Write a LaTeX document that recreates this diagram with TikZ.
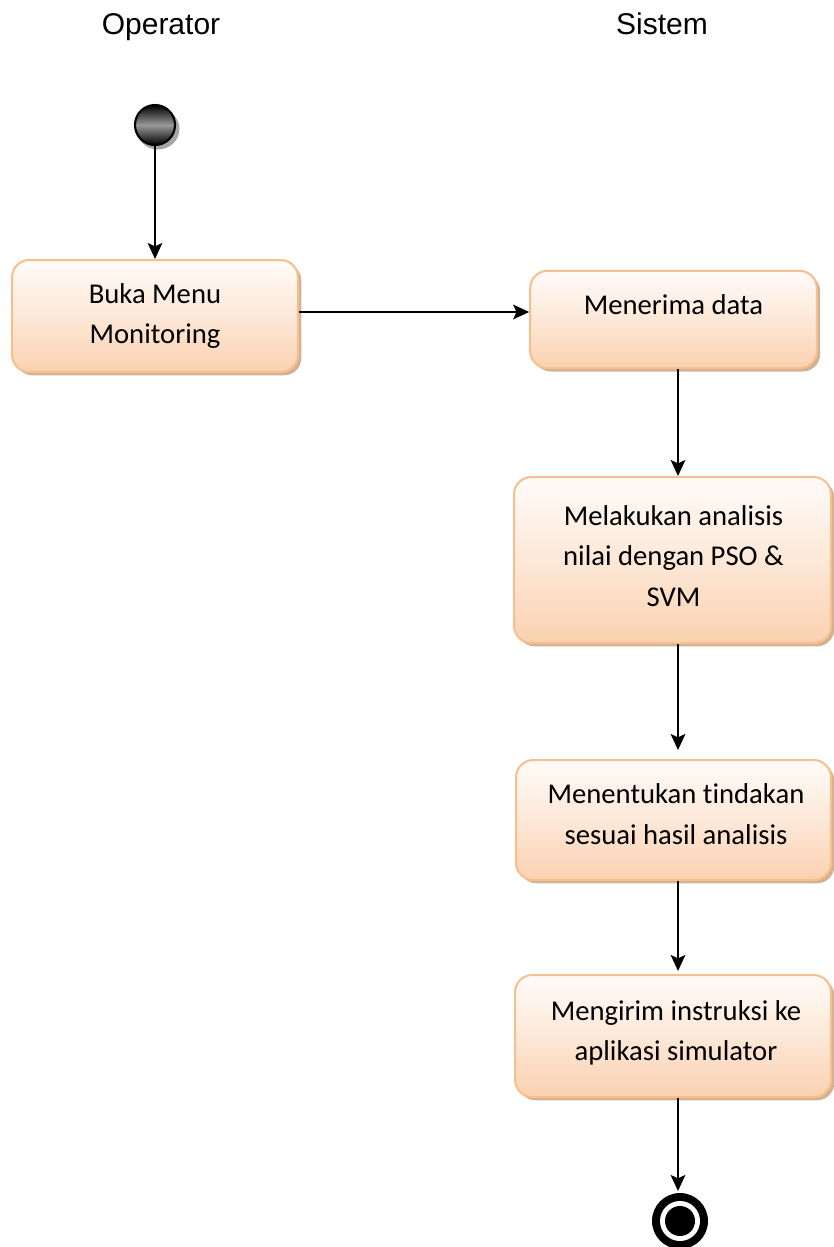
\documentclass[tikz,border=0pt]{standalone}
\usepackage{fontspec}
\setmainfont[Ligatures=CommonOff]{Carlito}
\newfontfamily\arialfont{Liberation Sans}
\usetikzlibrary{arrows.meta,shadows,calc}
\definecolor{boxline}{HTML}{F8BF8E}
\definecolor{boxtop}{HTML}{FFFBF8}
\definecolor{boxbot}{HTML}{FAD1B0}
\definecolor{boxshadow}{HTML}{D3B294}
\begin{document}
\begin{tikzpicture}[x=0.75pt,y=-0.75pt,
  actbox/.style={draw=boxline,line width=1.5pt,rounded corners=13pt,
    top color=boxtop,bottom color=boxbot,middle color=boxbot!45!boxtop,
    inner sep=0pt,
    general shadow={fill=boxshadow,shadow xshift=2.5pt,shadow yshift=-2.5pt}},
  acttext/.style={align=center,inner sep=0pt,font=\fontsize{21.5}{30.5}\selectfont},
  lane/.style={font=\arialfont\fontsize{22.5}{27}\selectfont,inner sep=0pt,anchor=base},
  flow/.style={line width=1.6pt,-{Stealth[length=12pt,width=11pt,inset=2.5pt]}}]
\useasboundingbox (0,0) rectangle (833,1247);

% swimlane headings
\node[lane] (hOp) at (161,34) {Operator};
\node[lane] (hSys) at (662,34) {Sistem};

% initial state
\fill[gray!70] (158,129) circle [x radius=21.5,y radius=20.5];
\node[circle,draw=black,line width=1.6pt,minimum size=30pt,inner sep=0pt,
  shading=axis,top color=black,bottom color=black,middle color=black!40] (start) at (155,125) {};

% activity boxes
\node[actbox,minimum width=214.5pt,minimum height=84pt] (b1) at (155,316) {};
\node[actbox,minimum width=215pt,minimum height=73pt] (b2) at (673.5,319.5) {};
\node[actbox,minimum width=237.75pt,minimum height=124.5pt] (b3) at (672.5,560) {};
\node[actbox,minimum width=236.25pt,minimum height=90pt] (b4) at (673.5,820) {};
\node[actbox,minimum width=237pt,minimum height=91.5pt] (b5) at (673,1036) {};

\node[acttext] (t1) at (155,316) {Buka Menu\\Monitoring};
\node[acttext] (t2) at (673.5,305) {Menerima data};
\node[acttext] (t3) at (673.5,556) {Melakukan analisis\\nilai dengan PSO \&\\SVM};
\node[acttext] (t4) at (676,814) {Menentukan tindakan\\sesuai hasil analisis};
\node[acttext] (t5) at (676,1033) {Mengirim instruksi ke\\aplikasi simulator};

% final state
\fill[black] (680,1221) circle [radius=28];
\fill[white] (680,1221) circle [radius=20];
\node[circle,fill=black,minimum size=22.5pt,inner sep=0pt] (final) at (680,1221) {};
\coordinate (finalTop) at (680,1193);

% transitions
\coordinate (sysx) at (678,0);
\draw[flow] (start) -- (b1);
\draw[flow] ($(b1.east)+(0,-4)$) -- ($(b2.west)+(0,-7.5)$);
\draw[flow] (b2.south -| sysx) -- (b3.north -| sysx);
\draw[flow] (b3.south -| sysx) -- ($(b4.north -| sysx)+(0,-9)$);
\draw[flow] (b4.south -| sysx) -- ($(b5.north -| sysx)+(0,-3)$);
\draw[flow] (b5.south -| sysx) -- ($(finalTop -| sysx)+(0,-2)$);
\end{tikzpicture}
\end{document}
